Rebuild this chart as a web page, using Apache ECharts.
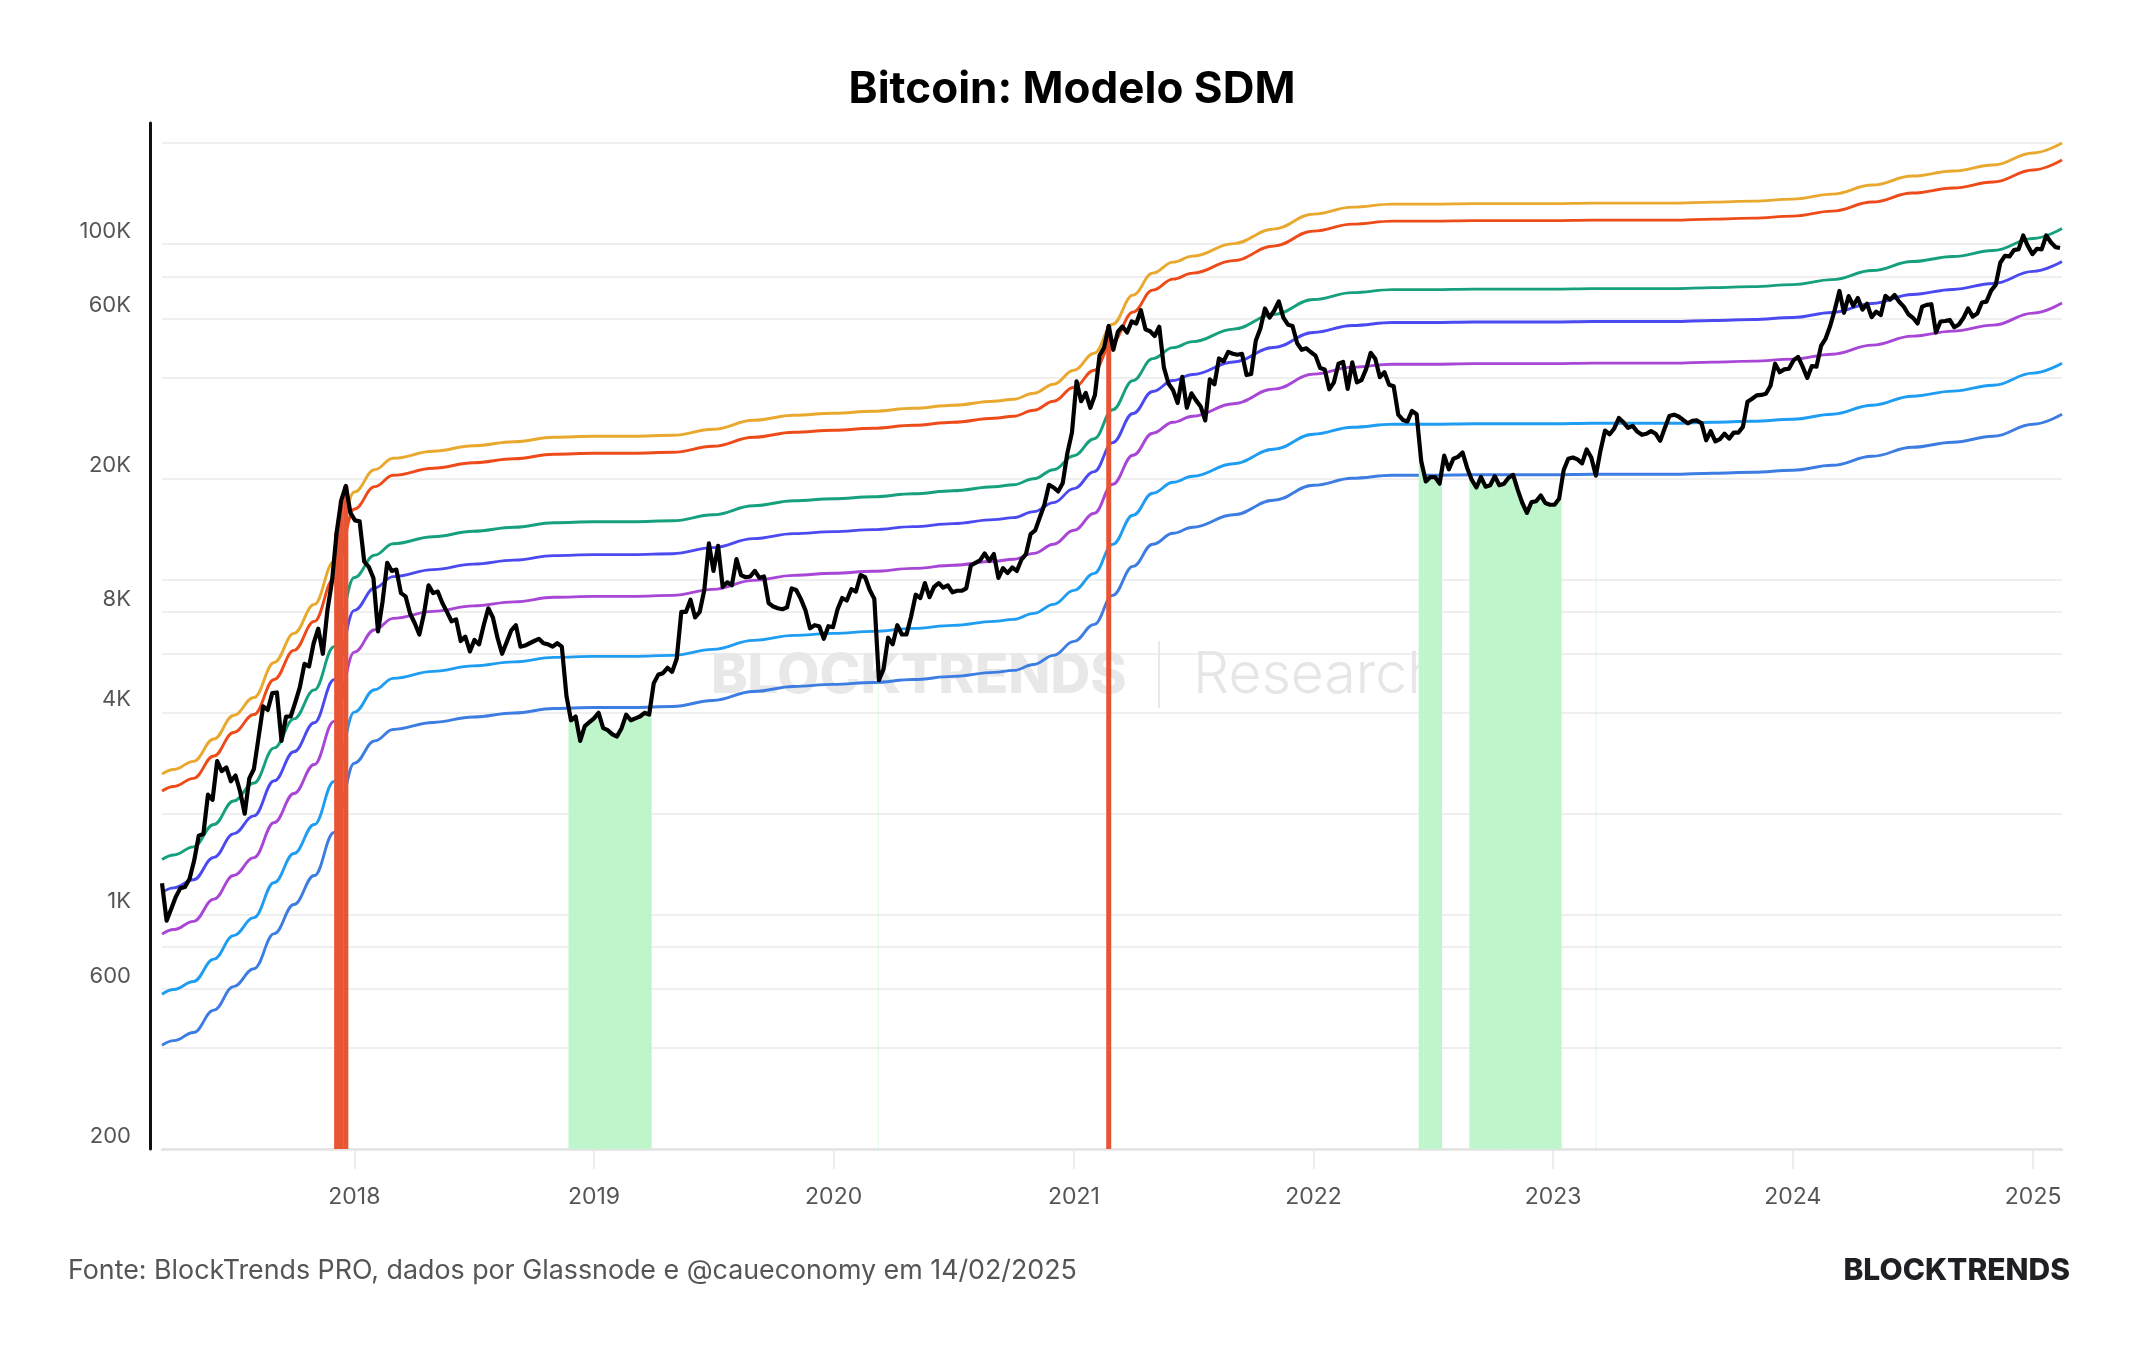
<!DOCTYPE html>
<html>
<head>
<meta charset="utf-8">
<title>Bitcoin: Modelo SDM</title>
<script src="https://cdn.jsdelivr.net/npm/echarts@6.0.0/dist/echarts.min.js"></script>
<style>
  html, body { margin: 0; padding: 0; background: #fff; }
  #chart { width: 2144px; height: 1350px; }
</style>
</head>
<body>
<div id="chart"></div>
<script>
// preço semanal (terças-feiras), a partir de 14/03/2017
const price2017 = [1240, 960, 1040, 1130, 1200, 1210, 1280, 1450, 1720, 1740, 2280, 2200, 2870, 2680, 2750, 2500, 2600, 2330, 2000, 2550, 2720, 3370, 4180, 4080, 4580, 4600, 3300, 3900, 3900, 4300, 4770, 5600, 5500, 6450, 7130, 6000, 8100, 9900, 13800, 17200, 19000, 15800];
const price2018 = [15000, 14900, 11300, 10900, 10100, 7000, 8600, 11200, 10600, 10700, 9100, 8900, 7900, 7400, 6850, 7900, 9600, 9100, 9200, 8500, 8000, 7500, 7600, 6550, 6750, 6100, 6600, 6400, 7300, 8200, 7700, 6700, 6000, 6500, 7050, 7300, 6300, 6350, 6450, 6550, 6650, 6450, 6400, 6300, 6450, 6300, 4500, 3800, 3900, 3300, 3650, 3750];
const price2019 = [3850, 4000, 3600, 3550, 3450, 3400, 3600, 3950, 3800, 3850, 3900, 4000, 3950, 4900, 5200, 5250, 5450, 5300, 5800, 8000, 8000, 8700, 7700, 8000, 9300, 12800, 10600, 12600, 9500, 9800, 9600, 11500, 10300, 10150, 10200, 10600, 10100, 10200, 8500, 8300, 8200, 8150, 8250, 9400, 9300, 8750, 8100, 7150, 7300, 7250, 6650, 7250, 7200];
const price2020 = [8150, 8800, 8650, 9350, 9200, 10300, 10150, 9300, 8750, 5000, 5400, 6700, 6400, 7300, 6850, 6850, 7750, 9000, 8800, 9750, 8850, 9500, 9750, 9450, 9600, 9150, 9250, 9250, 9400, 11000, 11200, 11400, 11950, 11350, 11900, 10100, 10800, 10450, 10850, 10600, 11450, 11900, 13650, 14000, 15300, 16700, 19150, 18800, 18300, 19400, 23800, 27400];
const price2021 = [39000, 34000, 36000, 32500, 35500, 46500, 49200, 57000, 48400, 54800, 56800, 54500, 58800, 58000, 63500, 55700, 55000, 53200, 56700, 42900, 38400, 36700, 33600, 40200, 32500, 35900, 34200, 32800, 29800, 39500, 38200, 45600, 44700, 47700, 47100, 46800, 47100, 40700, 41000, 51500, 56000, 64300, 60400, 63300, 67500, 60400, 57500, 57000, 50600, 48400, 48900, 47600];
const price2022 = [46500, 42700, 42300, 36900, 38700, 44000, 44500, 37000, 44400, 38700, 39300, 42400, 47400, 45500, 40100, 41500, 38100, 37700, 31000, 29900, 29600, 31800, 31100, 22500, 19600, 20200, 20200, 19300, 23400, 21300, 22900, 23200, 23900, 21500, 19800, 18800, 20200, 18900, 19100, 20300, 19100, 19300, 20100, 20500, 18500, 16900, 15800, 17000, 17100, 17800, 16900, 16700];
const price2023 = [16700, 17400, 21200, 22900, 23100, 22800, 22200, 24400, 23100, 20400, 24200, 27800, 27100, 28200, 30300, 29400, 28300, 28700, 27600, 27000, 27200, 27700, 27200, 25900, 28300, 30700, 31000, 30600, 29900, 29200, 29700, 29800, 29200, 26000, 27700, 25800, 26200, 27200, 26300, 27400, 27400, 28500, 33900, 34600, 35400, 35500, 35800, 37800, 44000, 41500, 42300, 42500];
const price2024 = [45000, 46100, 43100, 39900, 43300, 43100, 49700, 52300, 57100, 63800, 72500, 62400, 70000, 65500, 69100, 63800, 66400, 60600, 62900, 61500, 70100, 68300, 70500, 67300, 65100, 61800, 60300, 58000, 65100, 65900, 66200, 54500, 58800, 59000, 59400, 56500, 57600, 60300, 64300, 60800, 62100, 67000, 67400, 72700, 75600, 88000, 92300, 91900, 96000, 96600, 106100, 98700, 93400];
const price2025 = [96900, 96500, 106100, 101300, 98000, 97400];

// bandas do modelo SDM
const bandDates = ['2017-03-14', '2017-04-01', '2017-05-01', '2017-06-01', '2017-07-01', '2017-08-01', '2017-09-01', '2017-10-01', '2017-11-01', '2017-12-01',
  '2018-01-01', '2018-02-01', '2018-03-01', '2018-05-01', '2018-07-01', '2018-09-01', '2018-11-01', '2019-01-01', '2019-03-01', '2019-05-01',
  '2019-07-01', '2019-09-01', '2019-11-01', '2020-01-01', '2020-03-01', '2020-05-01', '2020-07-01', '2020-09-01', '2020-10-01', '2020-11-01',
  '2020-12-01', '2021-01-01', '2021-02-01', '2021-03-01', '2021-04-01', '2021-05-01', '2021-06-01', '2021-07-01', '2021-09-01', '2021-11-01',
  '2022-01-01', '2022-03-01', '2022-05-01', '2022-07-01', '2022-09-01', '2022-11-01', '2023-01-01', '2023-03-01', '2023-05-01', '2023-07-01',
  '2023-09-01', '2023-11-01', '2024-01-01', '2024-03-01', '2024-05-01', '2024-07-01', '2024-09-01', '2024-11-01', '2025-01-01', '2025-02-14'];
const bandGold = [2628, 2711, 2866, 3342, 3928, 4444, 5654, 6904, 8424, 11322, 18225, 21252, 22978, 24111, 25039, 25734, 26546, 26726, 26726, 26906,
  28040, 29830, 30873, 31311, 31736, 32393, 33076, 34003, 34467, 35909, 38215, 42066, 47282, 57702, 70441, 81955, 88383, 92105, 100361, 110884,
  122940, 128980, 131646, 131646, 132110, 132110, 132110, 132574, 132574, 132574, 133488, 134403, 136258, 141010, 150052, 159622, 165212, 172141, 186979, 200284];
const bandRed = [2338, 2412, 2550, 2974, 3495, 3954, 5031, 6143, 7495, 10073, 16216, 18909, 20445, 21453, 22278, 22897, 23619, 23780, 23780, 23940,
  24948, 26541, 27470, 27859, 28237, 28822, 29429, 30254, 30667, 31950, 34002, 37428, 42070, 51341, 62675, 72920, 78639, 81950, 89296, 98659,
  109386, 114760, 117133, 117133, 117545, 117545, 117545, 117958, 117958, 117958, 118771, 119585, 121235, 125464, 133509, 142024, 146997, 153163, 166365, 178203];
const bandTeal = [1461, 1507, 1593, 1858, 2184, 2470, 3143, 3838, 4683, 6294, 10131, 11814, 12773, 13404, 13919, 14306, 14757, 14857, 14857, 14957,
  15587, 16583, 17163, 17406, 17642, 18007, 18387, 18902, 19160, 19962, 21244, 23385, 26284, 32077, 39158, 45559, 49132, 51201, 55791, 61640,
  68342, 71700, 73182, 73182, 73440, 73440, 73440, 73698, 73698, 73698, 74206, 74715, 75746, 78388, 83414, 88734, 91841, 95693, 103942, 111338];
const bandIndigo = [1165, 1202, 1271, 1482, 1742, 1971, 2508, 3062, 3736, 5021, 8082, 9425, 10190, 10693, 11104, 11413, 11772, 11852, 11852, 11932,
  12435, 13229, 13692, 13886, 14074, 14366, 14668, 15080, 15285, 15925, 16948, 18655, 20969, 25590, 31239, 36345, 39196, 40847, 44508, 49175,
  54521, 57200, 58382, 58382, 58588, 58588, 58588, 58794, 58794, 58794, 59199, 59605, 60427, 62535, 66545, 70789, 73268, 76341, 82921, 88822];
const bandPurple = [875, 903, 955, 1113, 1308, 1480, 1883, 2299, 2806, 3771, 6070, 7079, 7653, 8031, 8340, 8571, 8842, 8902, 8902, 8962,
  9339, 9936, 10283, 10429, 10571, 10789, 11017, 11326, 11480, 11961, 12728, 14011, 15749, 19219, 23462, 27297, 29438, 30678, 33428, 36933,
  40948, 42960, 43848, 43848, 44003, 44003, 44003, 44157, 44157, 44157, 44462, 44766, 45384, 46967, 49979, 53166, 55028, 57336, 62278, 66710];
const bandSky = [579, 598, 632, 737, 866, 980, 1247, 1522, 1857, 2496, 4019, 4686, 5067, 5316, 5521, 5674, 5853, 5893, 5893, 5933,
  6183, 6577, 6807, 6904, 6998, 7143, 7293, 7498, 7600, 7918, 8426, 9275, 10426, 12723, 15532, 18071, 19488, 20309, 22129, 24450,
  27108, 28440, 29028, 29028, 29130, 29130, 29130, 29232, 29232, 29232, 29434, 29635, 30044, 31092, 33086, 35196, 36429, 37957, 41228, 44162];
const bandBlue = [408, 421, 445, 519, 610, 690, 878, 1072, 1308, 1758, 2830, 3300, 3568, 3744, 3888, 3996, 4122, 4150, 4150, 4178,
  4354, 4632, 4794, 4862, 4928, 5030, 5136, 5280, 5352, 5576, 5934, 6532, 7342, 8960, 10938, 12726, 13724, 14302, 15584, 17218,
  19090, 20028, 20442, 20442, 20514, 20514, 20514, 20586, 20586, 20586, 20728, 20870, 21158, 21896, 23300, 24786, 25654, 26730, 29034, 31100];

// sinais: preço acima da banda superior (vermelho) / abaixo da inferior (verde)
const redZones = [['2017-12-03', '2017-12-21'], ['2021-02-20', '2021-02-25']];
const greenZones = [['2018-11-24', '2019-03-30'], ['2022-06-13', '2022-07-13'], ['2022-08-28', '2023-01-11']];
const greenSpikes = [['2020-03-12', 4970], ['2023-03-10', 20200]];

const yearTicks = [2018, 2019, 2020, 2021, 2022, 2023, 2024, 2025];
const yLabelValues = [200, 600, 1000, 4000, 8000, 20000, 60000, 100000];
const yGridValues = [200, 400, 600, 800, 1000, 2000, 4000, 6000, 8000, 10000, 20000, 40000, 60000, 80000, 100000, 200000];

function day(s) {
  const p = s.split('-');
  return new Date(+p[0], +p[1] - 1, +p[2]).getTime();
}

const prices = [].concat(price2017, price2018, price2019, price2020, price2021, price2022, price2023, price2024, price2025);
const priceData = prices.map((v, i) => [new Date(2017, 2, 14 + 7 * i).getTime(), v]);

function inZones(t, zones) {
  return zones.some(z => t >= day(z[0]) && t <= day(z[1]));
}
const redData = priceData.filter(p => inZones(p[0], redZones));
const greenData = priceData.filter(p => inZones(p[0], greenZones));
const spikeData = greenSpikes.map(s => [day(s[0]), s[1]]);
const yearStamps = yearTicks.map(y => new Date(y, 0, 1).getTime());

const bands = [
  { name: 'gold', data: bandGold, color: '#E9A92F' },
  { name: 'red', data: bandRed, color: '#EE4B1A' },
  { name: 'teal', data: bandTeal, color: '#17A07E' },
  { name: 'indigo', data: bandIndigo, color: '#4B4AF0' },
  { name: 'purple', data: bandPurple, color: '#A846D6' },
  { name: 'sky', data: bandSky, color: '#1E9DF2' },
  { name: 'blue', data: bandBlue, color: '#3D7DE2' }
];

const FONT = 'Inter, "Noto Sans", sans-serif';
const myChart = echarts.init(document.getElementById('chart'), null, { renderer: 'canvas' });

const series = bands.map(b => ({
  name: b.name,
  type: 'line',
  data: bandDates.map((d, i) => [day(d), b.data[i]]),
  smooth: 0.4,
  smoothMonotone: 'x',
  showSymbol: false,
  lineStyle: { color: b.color, width: 2.9 },
  z: 2,
  silent: true
}));

series.push(
  {
    name: 'spikes', type: 'bar', data: spikeData, barWidth: 1, barGap: '-100%',
    itemStyle: { color: 'rgba(190,245,201,0.55)' }, z: 3, silent: true
  },
  {
    name: 'sinal vermelho', type: 'bar', data: redData, barWidth: 5, barGap: '-100%',
    itemStyle: { color: '#E85535' }, z: 3, silent: true
  },
  {
    name: 'sinal verde', type: 'bar', data: greenData, barWidth: 5, barGap: '-100%',
    itemStyle: { color: '#BFF5CA' }, z: 3, silent: true
  },
  {
    name: 'preço', type: 'line', data: priceData, showSymbol: false,
    lineStyle: { color: '#000', width: 4.2, join: 'round' }, z: 5, silent: true
  }
);

myChart.setOption({
  animation: false,
  backgroundColor: '#fff',
  textStyle: { fontFamily: FONT },
  title: {
    text: 'Bitcoin: Modelo SDM',
    left: 'center',
    top: 63,
    textStyle: { fontSize: 44, fontWeight: 700, color: '#000', fontFamily: FONT }
  },
  grid: { left: 162, right: 82, top: 123, bottom: 201, containLabel: false },
  xAxis: {
    type: 'value',
    min: day('2017-03-14'),
    max: day('2025-02-14'),
    axisLine: { show: true, lineStyle: { color: '#e3e3e3', width: 2.5 } },
    axisTick: {
      show: true, length: 20,
      customValues: yearStamps,
      lineStyle: { color: '#e8e8e8', width: 1.5 }
    },
    axisLabel: {
      customValues: yearStamps,
      formatter: v => String(new Date(v).getFullYear()),
      color: '#555', fontSize: 23, margin: 37, fontFamily: FONT
    },
    splitLine: { show: false }
  },
  yAxis: {
    type: 'log',
    logBase: 10,
    min: 200,
    max: 229800,
    offset: 12,
    axisLine: { show: true, lineStyle: { color: '#111', width: 3 } },
    axisTick: { show: false, customValues: yGridValues },
    splitLine: { show: true, lineStyle: { color: '#efefef', width: 2 } },
    axisLabel: {
      customValues: yLabelValues,
      formatter: v => (v >= 1000 ? (v / 1000) + 'K' : String(v)),
      verticalAlign: 'bottom',
      lineHeight: 26,
      color: '#555', fontSize: 22, margin: 19, fontFamily: FONT
    }
  },
  graphic: [
    {
      type: 'text', x: 711, y: 676, z: 1, silent: true,
      style: { text: 'BLOCKTRENDS', fill: '#e8e8e8', fontSize: 55, fontWeight: 800, fontFamily: FONT, align: 'left', verticalAlign: 'middle' }
    },
    {
      type: 'line', z: 1, silent: true,
      shape: { x1: 1159, y1: 641, x2: 1159, y2: 708 },
      style: { stroke: '#e8e8e8', lineWidth: 2 }
    },
    {
      type: 'text', x: 1193, y: 676, z: 1, silent: true,
      style: { text: 'Research', fill: '#e6e6e6', fontSize: 57, fontWeight: 300, fontFamily: FONT, align: 'left', verticalAlign: 'middle' }
    },
    {
      type: 'text', x: 68, y: 1271,
      style: { text: 'Fonte: BlockTrends PRO, dados por Glassnode e @caueconomy em 14/02/2025', fill: '#555', fontSize: 26.8, fontFamily: FONT, align: 'left', verticalAlign: 'middle' }
    },
    {
      type: 'text', x: 2070, y: 1271,
      style: { text: 'BLOCKTRENDS', fill: '#1f1f24', fontSize: 30, fontWeight: 800, fontFamily: FONT, align: 'right', verticalAlign: 'middle' }
    }
  ],
  series: series
});

window.addEventListener('resize', () => {
  myChart.resize();
});
</script>
</body>
</html>
